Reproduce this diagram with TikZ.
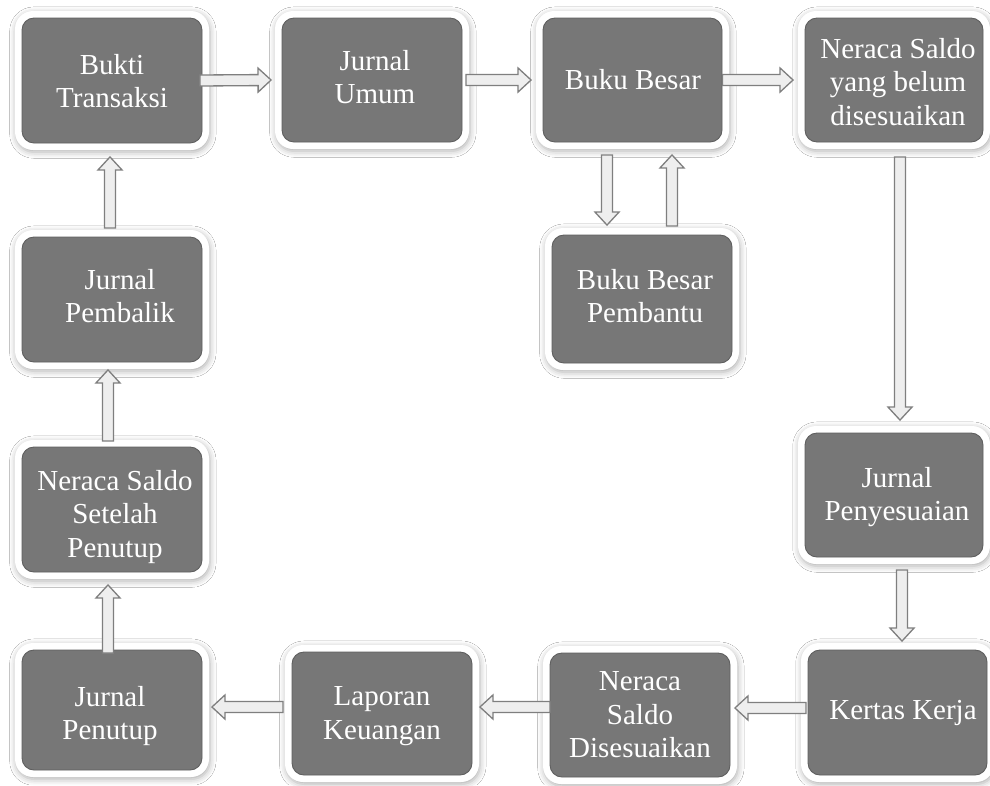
\documentclass[tikz,border=0pt]{standalone}
\usepackage{fontspec}
\setmainfont{Liberation Serif}
\usetikzlibrary{calc,fit,shadows.blur}
\definecolor{boxgray}{HTML}{777777}
\definecolor{boxedge}{HTML}{5E5E5E}
\definecolor{arrfill}{HTML}{EEEEEE}
\definecolor{arrline}{HTML}{7F7F7F}
\tikzset{
 frame/.style={rectangle, rounded corners=0.36cm, fill=white, inner sep=0.14cm,
   blur shadow={shadow xshift=0.5pt, shadow yshift=-1.2pt, shadow blur radius=3.5pt, shadow opacity=32}},
 box/.style={rectangle, rounded corners=0.24cm, inner sep=0pt, fill=boxgray, draw=boxedge, line width=0.5pt},
 lbl/.style={text=white, font=\fontsize{16.5}{19}\selectfont, align=center, inner sep=0pt},
 blockarr/.style={fill=arrfill, draw=arrline, line width=0.75pt, line join=miter}
}
\newcommand\bx[8]{%
 \node[frame, fit={(#2,#3)(#4,#5)}] (#1-f) {};
 \node[box, fit={(#2,#3)(#4,#5)}] (#1) {};
 \node[lbl] (#1-t) at (#7,#8) {#6};}
\newcommand\barrow[4]{%
 \coordinate (bas) at ($(#1)+(#2)$);
 \coordinate (bat) at ($(#3)+(#4)$);
 \coordinate (bah) at ($(bat)!0.26cm!(bas)$);
 \filldraw[blockarr] ($(bas)!0.11cm!90:(bat)$) -- ($(bah)!0.11cm!90:(bat)$) -- ($(bah)!0.24cm!90:(bat)$) -- (bat) -- ($(bah)!0.24cm!-90:(bat)$) -- ($(bah)!0.11cm!-90:(bat)$) -- ($(bas)!0.11cm!-90:(bat)$) -- cycle;}
\begin{document}
\begin{tikzpicture}[x=0.02cm, y=-0.02cm]
\fill[white] (0,0) rectangle (990,785);
\useasboundingbox (0,0) rectangle (990,785);
\clip (0,0) rectangle (990,785);
% boxes
\bx{bukti}{22}{18}{202}{143}{Bukti\\Transaksi}{112}{81}
\bx{jumum}{282}{18}{462}{142}{Jurnal\\Umum}{375}{77}
\bx{bbesar}{543}{18}{722}{142}{Buku Besar}{633}{80}
\bx{nsbelum}{805}{18}{983}{142}{Neraca Saldo\\yang belum\\disesuaikan}{898}{82}
\bx{bbp}{552}{235}{732}{363}{Buku Besar\\Pembantu}{645}{296}
\bx{jpembalik}{22}{237}{202}{362}{Jurnal\\Pembalik}{120}{296}
\bx{nsspenutup}{22}{447}{202}{572}{Neraca Saldo\\Setelah\\Penutup}{115}{517}
\bx{jpenyesuaian}{805}{433}{983}{557}{Jurnal\\Penyesuaian}{897}{497}
\bx{jpenutup}{22}{650}{202}{770}{Jurnal\\Penutup}{110}{716}
\bx{laporan}{292}{652}{472}{775}{Laporan\\Keuangan}{382}{716}
\bx{nsdis}{550}{653}{730}{777}{Neraca\\Saldo\\Disesuaikan}{640}{715}
\bx{kertas}{808}{650}{987}{775}{Kertas Kerja}{903}{713}
% connectors
\barrow{bukti.east}{-2.5,0}{jumum.west}{-10.5,0}
\barrow{jumum.east}{3.5,0}{bbesar.west}{-11.5,0}
\barrow{bbesar.east}{0,0}{nsbelum.west}{-11.5,0}
\barrow{bbesar.south}{-25.5,12.5}{bbp.north}{-35,-9.5}
\barrow{bbp.north}{30,-8.5}{bbesar.south}{39.5,12.5}
\barrow{nsbelum.south}{6,14.5}{jpenyesuaian.north}{6,-12.5}
\barrow{jpenyesuaian.south}{8,12.5}{kertas.north}{4.5,-8.5}
\barrow{kertas.west}{-1.5,-4.5}{nsdis.east}{4.5,-7}
\barrow{nsdis.west}{0.5,-8}{laporan.east}{7.5,-6.5}
\barrow{laporan.west}{-8.5,-6.5}{jpenutup.east}{9.5,-3}
\barrow{jpenutup.north}{-4,3.5}{nsspenutup.south}{-4,12.5}
\barrow{nsspenutup.north}{-4,-5.5}{jpembalik.south}{-4,7.5}
\barrow{jpembalik.north}{-2,-8.5}{bukti.south}{-2,13.5}
\end{tikzpicture}
\end{document}
